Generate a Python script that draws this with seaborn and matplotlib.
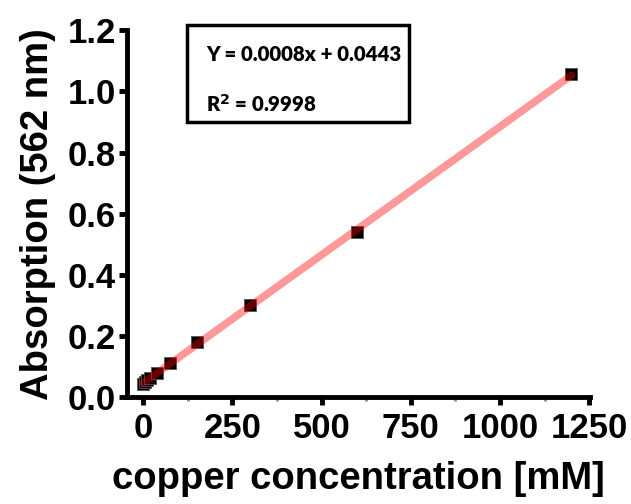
import numpy as np
import pandas as pd
import matplotlib
matplotlib.use('Agg')
import matplotlib.pyplot as plt
import seaborn as sns
from matplotlib.ticker import MultipleLocator

# copper standard curve
conc = [0, 4.6875, 9.375, 18.75, 37.5, 75, 150, 300, 600, 1200]
absorption = [0.043, 0.048, 0.055, 0.062, 0.078, 0.111, 0.179, 0.300, 0.539, 1.056]
x_ticks = [0, 250, 500, 750, 1000, 1250]
y_ticks = [0.0, 0.2, 0.4, 0.6, 0.8, 1.0, 1.2]
eq_text = 'Y = 0.0008x + 0.0443'
r2_text = 'R$^2$ = 0.9998'

df = pd.DataFrame({'conc': conc, 'abs': absorption})

sns.set_style('ticks')
plt.rcParams['font.family'] = ['Liberation Sans', 'DejaVu Sans']
plt.rcParams['font.weight'] = 'bold'
plt.rcParams['text.color'] = 'black'
plt.rcParams['axes.labelcolor'] = 'black'
plt.rcParams['xtick.color'] = 'black'
plt.rcParams['ytick.color'] = 'black'
plt.rcParams['axes.edgecolor'] = 'black'

fig = plt.figure(figsize=(6.31, 5.04), dpi=100)
ax = fig.add_axes([0.201, 0.212, 0.734, 0.728])

sns.scatterplot(data=df, x='conc', y='abs', marker='s', s=85, color='black',
                edgecolor='#555555', linewidth=0.6, ax=ax, zorder=2)
sns.regplot(data=df, x='conc', y='abs', ci=None, scatter=False, ax=ax,
            line_kws={'color': 'red', 'alpha': 0.4, 'lw': 5.5,
                      'solid_capstyle': 'round', 'zorder': 3})

ax.set_xlim(-46, 1252)
ax.set_ylim(0, 1.2)
ax.set_xticks(x_ticks)
ax.set_yticks(y_ticks)
ax.set_xticklabels([str(t) for t in x_ticks])
ax.set_yticklabels([f'{t:.1f}' for t in y_ticks])
ax.xaxis.set_minor_locator(MultipleLocator(125))

for s in ['left', 'bottom']:
    ax.spines[s].set_linewidth(3.5)
sns.despine(ax=ax)
ax.tick_params(axis='both', which='major', length=6, width=3.5,
               labelsize=25, pad=2)
ax.tick_params(axis='x', which='major', pad=5)
ax.tick_params(axis='x', which='minor', length=3, width=2, color='#888888')

ax.set_xlabel('copper concentration [mM]', fontsize=27.5, fontweight='bold', labelpad=11)
ax.set_ylabel('Absorption (562 nm)', fontsize=27.5, fontweight='bold', labelpad=8)

# equation box
box = plt.Rectangle((0.13, 0.749), 0.48, 0.265, transform=ax.transAxes,
                    fill=False, lw=2.5, edgecolor='black', clip_on=False)
ax.add_patch(box)
ax.text(0.172, 0.935, eq_text, transform=ax.transAxes, fontsize=14.7,
        fontweight='heavy', family=['Lato', 'DejaVu Sans'], va='center')
ax.text(0.172, 0.8, r2_text, transform=ax.transAxes, fontsize=14.7,
        fontweight='heavy', family=['Lato', 'DejaVu Sans'], va='center')

fig.savefig('out.png', dpi=100)
